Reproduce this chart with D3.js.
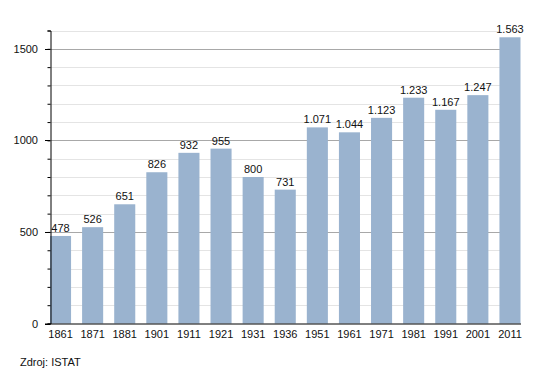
<!DOCTYPE html>
<html>
<head>
<meta charset="utf-8">
<script src="https://cdn.jsdelivr.net/npm/d3@7"></script>
<style>
  body { margin: 0; background: #fff; }
  svg { font-family: "Liberation Sans", Arial, sans-serif; }
</style>
</head>
<body>
<svg id="chart" width="550" height="373"></svg>
<script>
// census years and population
var years = ["1861", "1871", "1881", "1901", "1911", "1921", "1931", "1936", "1951", "1961", "1971", "1981", "1991", "2001", "2011"];
var population = [478, 526, 651, 826, 932, 955, 800, 731, 1071, 1044, 1123, 1233, 1167, 1247, 1563];
var majorTicks = [0, 500, 1000, 1500];
var minorTicks = d3.range(0, 1601, 100);
var source = "Zdroj: ISTAT";

var svg = d3.select("#chart");
var plotLeft = 50, gridRight = 500, barRight = 520.5, plotTop = 30.5, plotBottom = 323.5;

var x = d3.scaleBand().domain(years).range([plotLeft, barRight]).paddingInner(0.344).paddingOuter(0);
var y = d3.scaleLinear().domain([0, 1600]).range([plotBottom, plotTop]);

var fmt = function(v) { return d3.format(",")(v).replace(/,/g, "."); };
var snap = function(d) { return Math.round(y(d)) + 0.5; };

// light grid every 100
svg.append("g").selectAll("line").data(minorTicks.filter(function(d) { return d % 500 != 0; }))
  .enter().append("line")
  .attr("x1", plotLeft).attr("x2", gridRight)
  .attr("y1", snap).attr("y2", snap)
  .attr("stroke", "#e4e4e4").attr("stroke-width", 1);

// darker grid every 500
svg.append("g").selectAll("line").data(majorTicks.filter(function(d) { return d > 0; }))
  .enter().append("line")
  .attr("x1", plotLeft).attr("x2", gridRight)
  .attr("y1", snap).attr("y2", snap)
  .attr("stroke", "#a8a8a8").attr("stroke-width", 1);

// bars
svg.append("g").selectAll("rect").data(population)
  .enter().append("rect")
  .attr("x", function(d, i) { return x(years[i]); })
  .attr("width", x.bandwidth())
  .attr("y", function(d) { return y(d); })
  .attr("height", function(d) { return plotBottom - y(d); })
  .attr("fill", "#9ab3cf");

// value labels
svg.append("g").selectAll("text").data(population)
  .enter().append("text")
  .attr("x", function(d, i) { return x(years[i]) + x.bandwidth() / 2; })
  .attr("y", function(d) { return y(d) - 4; })
  .attr("text-anchor", "middle")
  .attr("font-size", "11px")
  .attr("fill", "#111")
  .text(fmt);

// y axis
var yAxis = svg.append("g").attr("transform", "translate(" + (plotLeft + 0.5) + ",0)")
  .call(d3.axisLeft(y).tickValues(minorTicks).tickSize(3).tickFormat(""));
yAxis.select(".domain").attr("stroke", "#000");
yAxis.selectAll(".tick line").attr("stroke", "#000");
svg.append("g").selectAll("text").data(majorTicks)
  .enter().append("text")
  .attr("x", 38).attr("y", function(d) { return y(d) + 4; })
  .attr("text-anchor", "end").attr("font-size", "11px").attr("fill", "#111")
  .text(function(d) { return d; });
svg.append("g").selectAll("line").data(majorTicks)
  .enter().append("line")
  .attr("x1", plotLeft - 5).attr("x2", plotLeft)
  .attr("y1", snap).attr("y2", snap)
  .attr("stroke", "#000");

// x axis
var xAxis = svg.append("g").attr("transform", "translate(0," + (plotBottom + 0.5) + ")")
  .call(d3.axisBottom(x).tickSize(0).tickPadding(6));
xAxis.select(".domain").attr("d", "M" + (plotLeft - 5) + ",0H" + (barRight + 0.5)).attr("stroke", "#000");
xAxis.selectAll("text").attr("font-size", "11px").attr("font-family", "Liberation Sans, Arial, sans-serif").attr("fill", "#111");

svg.append("text").attr("x", 20).attr("y", 366).attr("font-size", "11px").attr("fill", "#111").text(source);
</script>
</body>
</html>
